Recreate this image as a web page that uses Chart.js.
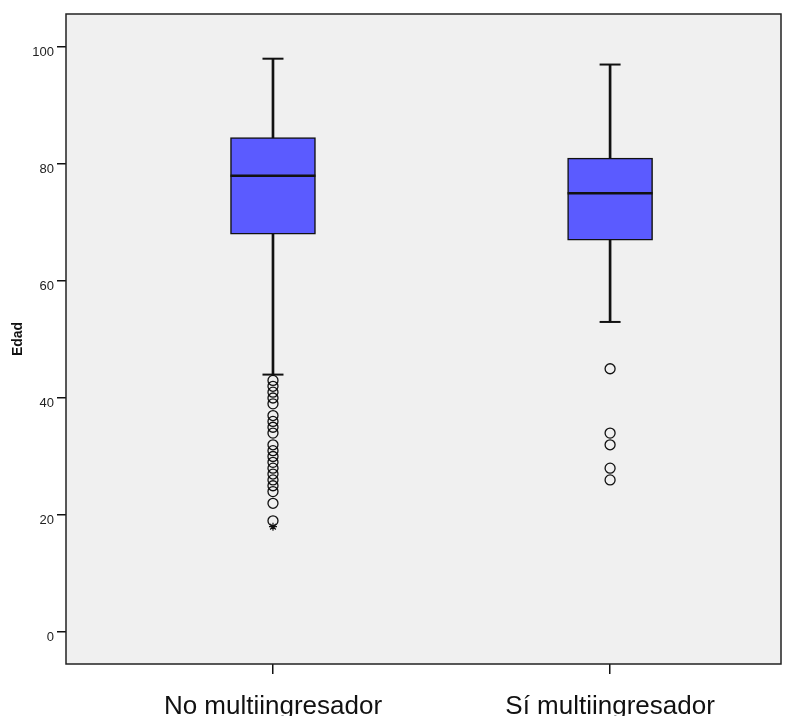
<!DOCTYPE html>
<html>
<head>
<meta charset="utf-8">
<title>Edad</title>
<script src="https://cdn.jsdelivr.net/npm/chart.js@4.4.1/dist/chart.umd.min.js"></script>
<style>
  html, body { margin: 0; padding: 0; background: #fff; }
  #wrap { width: 806px; height: 716px; position: relative; }
</style>
</head>
<body>
<div id="wrap"><canvas id="boxChart"></canvas></div>
<script>
// Box plot of age by group
const groups = ['No multiingresador', 'Sí multiingresador'];
const whiskerLow = [44, 53];
const q1 = [68, 67];
const median = [78, 75];
const q3 = [84.5, 81];
const whiskerHigh = [98, 97];
const outliersNo = [43, 42, 41, 40, 39, 37, 36, 35, 34, 32, 31, 30, 29, 28, 27, 26, 25, 24, 22, 19];
const outliersSi = [45, 34, 32, 28, 26];
const extremesNo = [18];
const yTicks = [0, 20, 40, 60, 80, 100];

const FONT = "'Liberation Sans', Arial, sans-serif";
const at = (values) => values.map((v, i) => ({ x: i + 1, y: v }));
const pointsFor = (idx, values) => values.map(v => ({ x: idx + 1, y: v }));

// scales keep a fixed size and no extra label padding
const noPad = (scale) => {
    scale.paddingTop = 0;
    scale.paddingBottom = 0;
    scale.paddingLeft = 0;
    scale.paddingRight = 0;
};

// grey plot background + frame
const plotFrame = {
    id: 'plotFrame',
    beforeDraw(chart) {
        const { ctx, chartArea: a } = chart;
        ctx.save();
        ctx.fillStyle = '#F0F0F0';
        ctx.fillRect(a.left, a.top, a.width, a.height);
        ctx.restore();
    },
    afterDraw(chart) {
        const { ctx, chartArea: a } = chart;
        ctx.save();
        ctx.strokeStyle = '#222';
        ctx.lineWidth = 1.5;
        ctx.strokeRect(a.left, a.top, a.width, a.height);
        ctx.restore();
    }
};

new Chart(document.getElementById('boxChart'), {
    type: 'bar',
    data: {
        datasets: [
            {
                label: 'Caja',
                data: groups.map((g, i) => ({ x: i + 1, y: [q1[i], q3[i]] })),
                backgroundColor: '#5B5BFF',
                borderColor: '#111',
                borderWidth: 1.5,
                borderSkipped: false,
                barThickness: 85,
                grouped: false,
                order: 2
            },
            {
                label: 'Bigotes',
                data: groups.map((g, i) => ({ x: i + 1, y: [whiskerLow[i], whiskerHigh[i]] })),
                backgroundColor: '#111',
                borderWidth: 0,
                barThickness: 2,
                grouped: false,
                order: 5
            },
            {
                type: 'scatter',
                label: 'Mediana',
                data: at(median),
                pointStyle: 'line',
                pointRadius: 42.5,
                borderColor: '#111',
                borderWidth: 2.5,
                order: 1
            },
            {
                type: 'scatter',
                label: 'Extremos',
                data: at(whiskerHigh).concat(at(whiskerLow)),
                pointStyle: 'line',
                pointRadius: 10.5,
                borderColor: '#111',
                borderWidth: 2,
                order: 1
            },
            {
                type: 'scatter',
                label: 'Atípicos',
                data: pointsFor(0, outliersNo).concat(pointsFor(1, outliersSi)),
                pointStyle: 'circle',
                pointRadius: 5,
                borderColor: '#111',
                borderWidth: 1.3,
                backgroundColor: 'rgba(0,0,0,0)',
                order: 1
            },
            {
                type: 'scatter',
                label: 'Extremos atípicos',
                data: pointsFor(0, extremesNo),
                pointStyle: 'star',
                pointRadius: 4,
                borderColor: '#111',
                borderWidth: 1.2,
                order: 1
            }
        ]
    },
    options: {
        responsive: true,
        maintainAspectRatio: false,
        animation: false,
        events: [],
        layout: { autoPadding: false, padding: { top: 14, right: 25, left: 0, bottom: 0 } },
        plugins: {
            legend: { display: false },
            tooltip: { enabled: false }
        },
        scales: {
            x: {
                type: 'linear',
                min: 0.386,
                max: 2.507,
                offset: false,
                afterBuildTicks: (scale) => { scale.ticks = groups.map((g, i) => ({ value: i + 1 })); },
                afterFit: (scale) => { scale.height = 52; noPad(scale); },
                grid: {
                    display: true,
                    drawOnChartArea: false,
                    drawTicks: true,
                    tickLength: 10,
                    offset: false,
                    color: '#111',
                    lineWidth: 1.5
                },
                border: { display: false },
                ticks: {
                    autoSkip: false,
                    maxRotation: 0,
                    padding: 17,
                    color: '#111',
                    font: { family: FONT, size: 26 },
                    callback: (v) => groups[v - 1]
                }
            },
            y: {
                min: -5.47,
                max: 105.64,
                afterBuildTicks: (scale) => { scale.ticks = yTicks.map(v => ({ value: v })); },
                afterFit: (scale) => { scale.width = 66; noPad(scale); },
                grid: {
                    display: true,
                    drawOnChartArea: false,
                    drawTicks: true,
                    tickLength: 9,
                    color: '#111',
                    lineWidth: 1.5
                },
                border: { display: false },
                ticks: {
                    padding: 3,
                    labelOffset: 5,
                    color: '#222',
                    font: { family: FONT, size: 13 }
                },
                title: {
                    display: true,
                    text: 'Edad',
                    color: '#111',
                    padding: { top: 10, bottom: 0 },
                    font: { family: FONT, size: 14, weight: 'bold' }
                }
            }
        }
    },
    plugins: [plotFrame]
});
</script>
</body>
</html>
